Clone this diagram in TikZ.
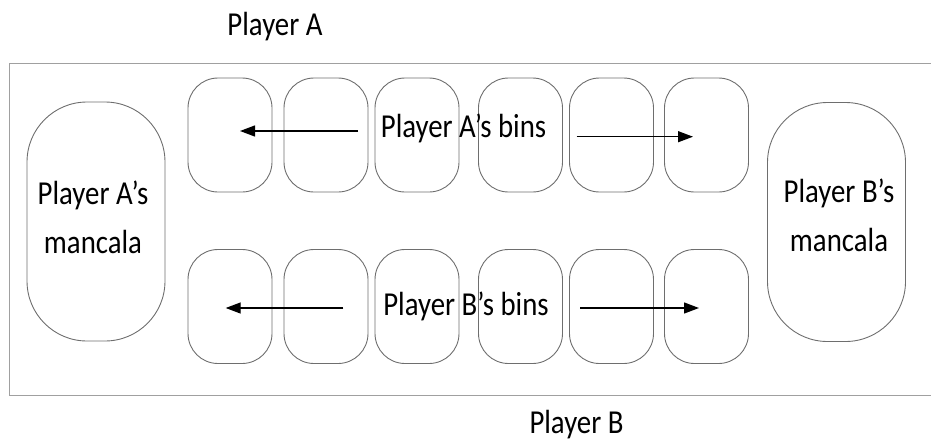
\documentclass[tikz,border=0pt]{standalone}
\usepackage{fontspec}
\setmainfont{Carlito}
\usetikzlibrary{arrows.meta}
\definecolor{edge}{RGB}{110,110,110}
\definecolor{framec}{RGB}{160,160,160}
\newcommand\sq[1]{\scalebox{0.86}[1]{#1}}
\begin{document}
\begin{tikzpicture}[x=1pt,y=-1pt,
  bin/.style={draw=edge, line width=0.9pt, rounded corners=30pt, minimum width=84pt, minimum height=114pt, inner sep=0pt},
  mancala/.style={draw=edge, line width=0.9pt, rounded corners=60pt, minimum width=138pt, minimum height=239pt, inner sep=0pt},
  lbl/.style={font=\fontsize{33.5}{45}\selectfont, inner sep=0pt, text=black},
  flow/.style={line width=1.3pt, -{Triangle[length=15pt,width=11pt]}},
  board/.style={draw=framec, line width=1.2pt}]
\useasboundingbox (0,0) rectangle (931,442);
\clip (0,0) rectangle (931,442);
% board
\draw[board] (945,63.5) -- (9.5,63.5) -- (9.5,395.3) -- (945,395.3);
% mancalas
\node[mancala] (mA) at (96,221.5) {};
\node[mancala] (mB) at (836.5,222) {};
% bins top row
\node[bin] (a1) at (230,135) {};
\node[bin] (a2) at (326,135) {};
\node[bin] (a3) at (417,135) {};
\node[bin] (a4) at (520.5,135) {};
\node[bin] (a5) at (611.5,135) {};
\node[bin] (a6) at (706.5,135) {};
% bins bottom row
\node[bin] (b1) at (230,306.5) {};
\node[bin] (b2) at (326,306.5) {};
\node[bin] (b3) at (417,306.5) {};
\node[bin] (b4) at (520.5,306.5) {};
\node[bin] (b5) at (611.5,306.5) {};
\node[bin] (b6) at (706.5,306.5) {};
% labels
\node[lbl, anchor=base] (pA) at (275,35.7) {\sq{Player A}};
\node[lbl, anchor=base] (pB) at (576.5,433.3) {\sq{Player B}};
\node[lbl, anchor=base] (binsA) at (463.5,137.7) {\sq{Player A’s bins}};
\node[lbl, anchor=base] (binsB) at (466,315) {\sq{Player B’s bins}};
\node[lbl, anchor=base, align=center] (tA) at (93,253) {\sq{Player A’s}\\[4pt]\sq{mancala}};
\node[lbl, anchor=base, align=center] (tB) at (839,251.7) {\sq{Player B’s}\\[4pt]\sq{mancala}};
% arrows
\coordinate (aLs) at (358,131);
\coordinate (aLe) at (240,131);
\coordinate (aRs) at (576.7,136.7);
\coordinate (aRe) at (693,136.7);
\coordinate (bLs) at (343.3,308);
\coordinate (bLe) at (225.7,308);
\coordinate (bRs) at (580,308);
\coordinate (bRe) at (699,308);
\draw[flow] (aLs) -- (aLe);
\draw[flow] (aRs) -- (aRe);
\draw[flow] (bLs) -- (bLe);
\draw[flow] (bRs) -- (bRe);
\end{tikzpicture}
\end{document}
